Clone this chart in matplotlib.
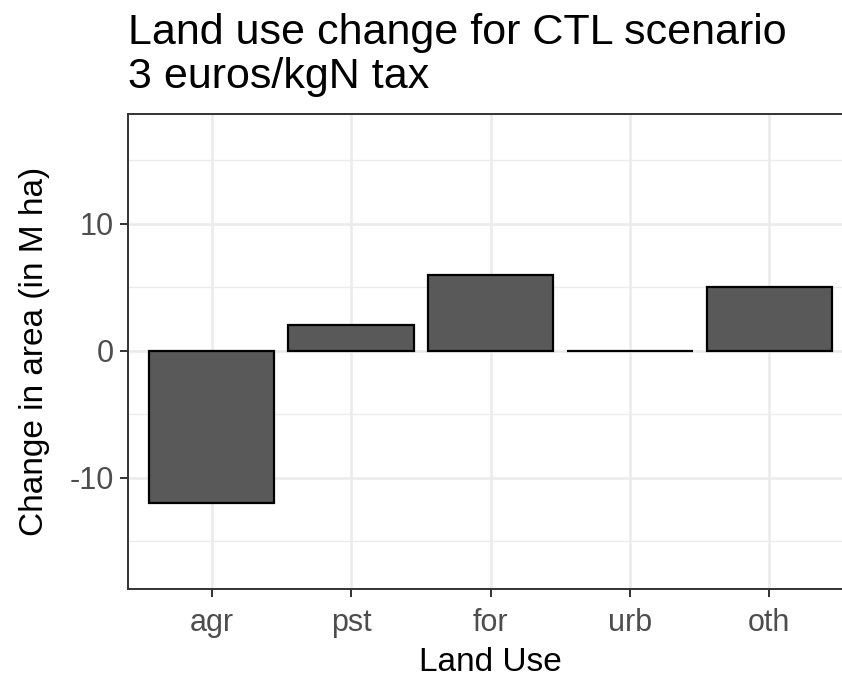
import matplotlib
matplotlib.use("Agg")
import matplotlib.pyplot as plt
from matplotlib.ticker import MultipleLocator

plt.rcParams['font.family'] = ['Liberation Sans', 'DejaVu Sans']

land_use = ["agr", "pst", "for", "urb", "oth"]
change = [-12, 2, 6, 0, 5]

W, H = 842, 677
fig = plt.figure(figsize=(W / 100, H / 100), dpi=100)
# panel runs past the right edge, like the cropped original
left, right, top, bottom = 128, 853, 114, 589
ax = fig.add_axes([left / W, 1 - bottom / H, (right - left) / W, (bottom - top) / H])

x = list(range(len(land_use)))
ax.bar(x, change, width=0.9, color="#595959", edgecolor="black", linewidth=1.6, zorder=3)

ax.set_xlim(-0.6, len(land_use) - 0.4)
ax.set_ylim(-18.75, 18.65)
ax.yaxis.set_major_locator(MultipleLocator(10))
ax.yaxis.set_minor_locator(MultipleLocator(5))
ax.set_xticks(x)
ax.set_xticklabels(land_use)
ax.set_yticks([-10, 0, 10])
ax.set_yticklabels(["-10", "0", "10"])

ax.grid(True, which="major", color="#EBEBEB", linewidth=1.8, zorder=0)
ax.grid(True, which="minor", axis="y", color="#EBEBEB", linewidth=0.9, zorder=0)
ax.set_axisbelow(True)

for s in ax.spines.values():
    s.set_color("#333333")
    s.set_linewidth(1.4)

ax.tick_params(axis="both", which="major", length=6, width=1.4, color="#333333",
               labelsize=22, labelcolor="#4D4D4D", pad=4)
ax.tick_params(axis="x", which="major", pad=8)
ax.tick_params(axis="y", which="minor", length=0)

ax.set_xlabel("Land Use", fontsize=24, color="black", labelpad=6)
ax.set_ylabel("Change in area (in M ha)", fontsize=24, color="black", labelpad=14)

fig.text(left / W, 1 - 13 / H, "Land use change for CTL scenario\n3 euros/kgN tax",
         fontsize=31, ha="left", va="top", linespacing=1.12)

fig.savefig("out.png", dpi=100)
